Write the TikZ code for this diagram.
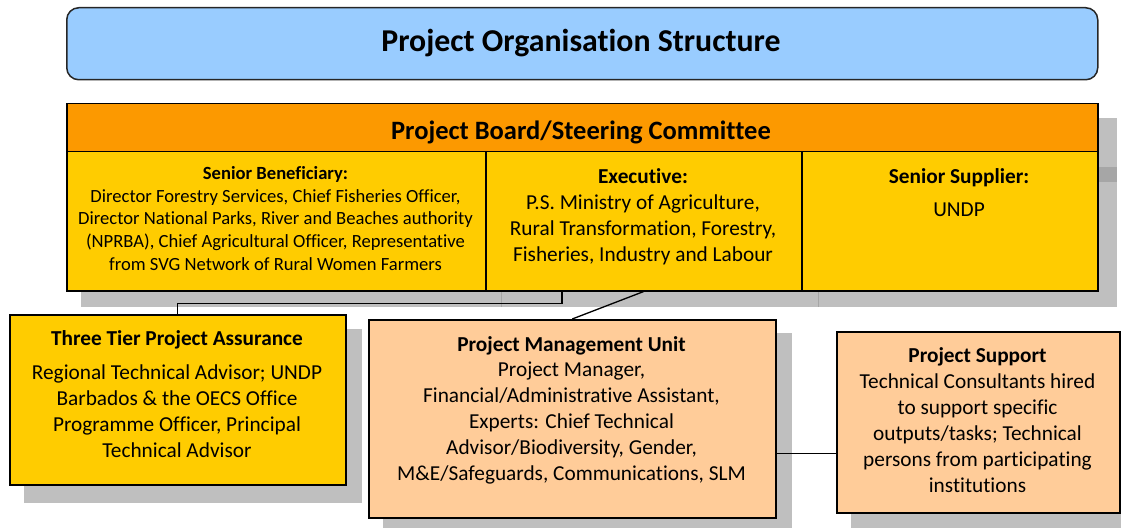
\documentclass[tikz,border=0pt]{standalone}
\usepackage{fontspec}
\setmainfont{Carlito}[Ligatures=NoCommon]
\usetikzlibrary{calc}
\definecolor{titleblue}{HTML}{99CCFF}
\definecolor{boardorange}{HTML}{FC9900}
\definecolor{boardyellow}{HTML}{FFCC00}
\definecolor{peach}{HTML}{FFCC99}
\definecolor{shadowgray}{HTML}{BFBFBF}
\definecolor{shadowdark}{HTML}{A6A6A6}
\tikzset{
  boxnode/.style={draw=black, line width=1.5pt, inner sep=0pt, anchor=north west},
  shadowbox/.style={fill=shadowgray, draw=none},
  conn/.style={draw=black, line width=1.3pt},
  txt/.style={align=center, inner sep=0pt, anchor=north},
}
\begin{document}
\begin{tikzpicture}[x=1pt,y=-1pt]
\useasboundingbox (0,0) rectangle (1121,529);
% shadows
\fill[shadowgray] (81,118) rectangle (1117,307);
\fill[shadowdark] (1097,167) rectangle (1117,182);
\draw[shadowdark, line width=1pt] (501,290) -- (501,307);
\draw[shadowdark, line width=1pt] (818,290) -- (818,307);
\fill[shadowgray] (24,329) rectangle (362,503);
\fill[shadowgray] (383,333) rectangle (792,528);
\fill[shadowgray] (851,346) rectangle (1121,528);

% title
\node[boxnode, draw=black!85, fill=titleblue, rounded corners=12pt, minimum width=1031pt, minimum height=72pt] (title) at (66,7) {};
\node[font=\fontsize{31.8}{38}\selectfont\bfseries, inner sep=0pt] (titletext) at (581,43) {Project Organisation Structure};

% board
\node[boxnode, fill=boardorange, minimum width=1031pt, minimum height=48pt] (boardhead) at (66,103) {};
\node[font=\fontsize{26.5}{32}\selectfont\bfseries, inner sep=0pt] (boardtext) at (581,132) {Project Board/Steering Committee};
\node[boxnode, fill=boardyellow, minimum width=419pt, minimum height=139pt] (benef) at (66,151) {};
\node[boxnode, fill=boardyellow, minimum width=316pt, minimum height=139pt] (exec) at (485,151) {};
\node[boxnode, fill=boardyellow, minimum width=296pt, minimum height=139pt] (supp) at (801,151) {};

\node[txt, font=\fontsize{18.6}{22.8}\selectfont] (beneftext) at (275.5,166) {\textbf{Senior Beneficiary:}\\Director Forestry Services, Chief Fisheries Officer,\\Director National Parks, River and Beaches authority\\(NPRBA), Chief Agricultural Officer, Representative\\from SVG Network of Rural Women Farmers};
\node[txt, font=\fontsize{21.3}{26}\selectfont] (exectext) at (643,168) {\textbf{Executive:}\\P.S. Ministry of Agriculture,\\Rural Transformation, Forestry,\\Fisheries, Industry and Labour};
\node[txt, font=\fontsize{21.3}{26}\selectfont] (supptext) at (959,168) {\textbf{Senior Supplier:}\\[7pt]UNDP};

% assurance
\node[boxnode, fill=boardyellow, minimum width=336pt, minimum height=170pt] (assur) at (9,314) {};
\node[txt, font=\fontsize{21.3}{26}\selectfont] (assurtext) at (177,330) {\textbf{Three Tier Project Assurance}\\[8pt]Regional Technical Advisor; UNDP\\Barbados \& the OECS Office\\Programme Officer, Principal\\Technical Advisor};

% PMU
\node[boxnode, fill=peach, minimum width=407pt, minimum height=198pt] (pmu) at (368,319) {};
\node[txt, font=\fontsize{21.3}{25.8}\selectfont] (pmutext) at (571.5,336) {\textbf{Project Management Unit}\\Project Manager,\\Financial/Administrative Assistant,\\Experts: Chief Technical\\Advisor/Biodiversity, Gender,\\M\&E/Safeguards, Communications, SLM};

% support
\node[boxnode, fill=peach, minimum width=283pt, minimum height=181pt] (support) at (836,331) {};
\node[txt, font=\fontsize{21.3}{26}\selectfont] (supporttext) at (977.5,347) {\textbf{Project Support}\\Technical Consultants hired\\to support specific\\outputs/tasks; Technical\\persons from participating\\institutions};

% connectors
\coordinate (boardout) at ($(exec.south west)+(77,0)$);
\coordinate (pmuout) at ($(pmu.south east)+(0,-65)$);
\draw[conn] (boardout) -- ++(0,12) -| (assur.north);
\draw[conn] (exec.south) -- (pmu.north);
\draw[conn] (pmuout) -- (pmuout -| support.west);
\end{tikzpicture}
\end{document}
